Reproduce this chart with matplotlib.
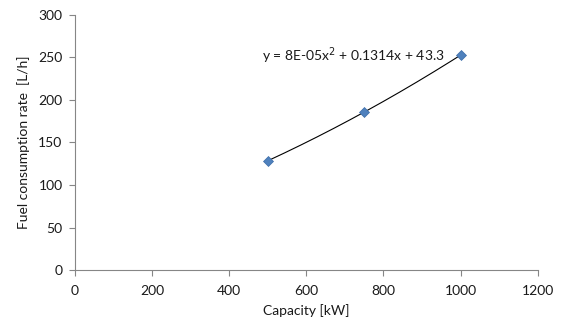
import numpy as np
import matplotlib
matplotlib.use("Agg")
import matplotlib.pyplot as plt

plt.rcParams['font.family'] = ['Lato', 'DejaVu Sans']

capacity_kw = [500, 750, 1000]
fuel_rate = [128.5, 185.7, 252.7]
trend_coeffs = [7.8e-5, 0.1314, 43.3]  # a*x^2 + b*x + c
x_ticks = [0, 200, 400, 600, 800, 1000, 1200]
y_ticks = [0, 50, 100, 150, 200, 250, 300]

fig = plt.figure(figsize=(5.66, 3.31), dpi=100)
ax = fig.add_axes([0.1325, 0.184, 0.8175, 0.771])

xs = np.linspace(min(capacity_kw), max(capacity_kw), 200)
ax.plot(xs, np.polyval(trend_coeffs, xs), color='black', lw=0.8, zorder=2)
ax.plot(capacity_kw, fuel_rate, linestyle='none', marker='D', markersize=5.5,
        color='#4F81BD', markeredgecolor='#3B6CA8', markeredgewidth=0.5, zorder=3)

a, b, c = trend_coeffs
label = f"y = {a:.0E}x$^2$ + {b:.4f}x + {c:.1f}"
ax.text(485, 252, label, ha='left', va='center', fontsize=10, color='#1a1a1a')

ax.set_xlim(0, 1200)
ax.set_ylim(0, 300)
ax.set_xticks(x_ticks)
ax.set_yticks(y_ticks)
for s in ['top', 'right']:
    ax.spines[s].set_visible(False)
for s in ['left', 'bottom']:
    ax.spines[s].set_color('#868686')
    ax.spines[s].set_linewidth(0.8)
ax.tick_params(direction='out', length=4, width=0.8, color='#868686',
               labelsize=10, labelcolor='#1a1a1a')
ax.tick_params(axis='x', pad=7)
ax.tick_params(axis='y', pad=5)
ax.set_xlabel('Capacity [kW]', fontsize=10, color='#1a1a1a', labelpad=5)
ax.set_ylabel('Fuel consumption rate  [L/h]', fontsize=10, color='#1a1a1a', labelpad=6)

fig.savefig('out.png', dpi=100)
